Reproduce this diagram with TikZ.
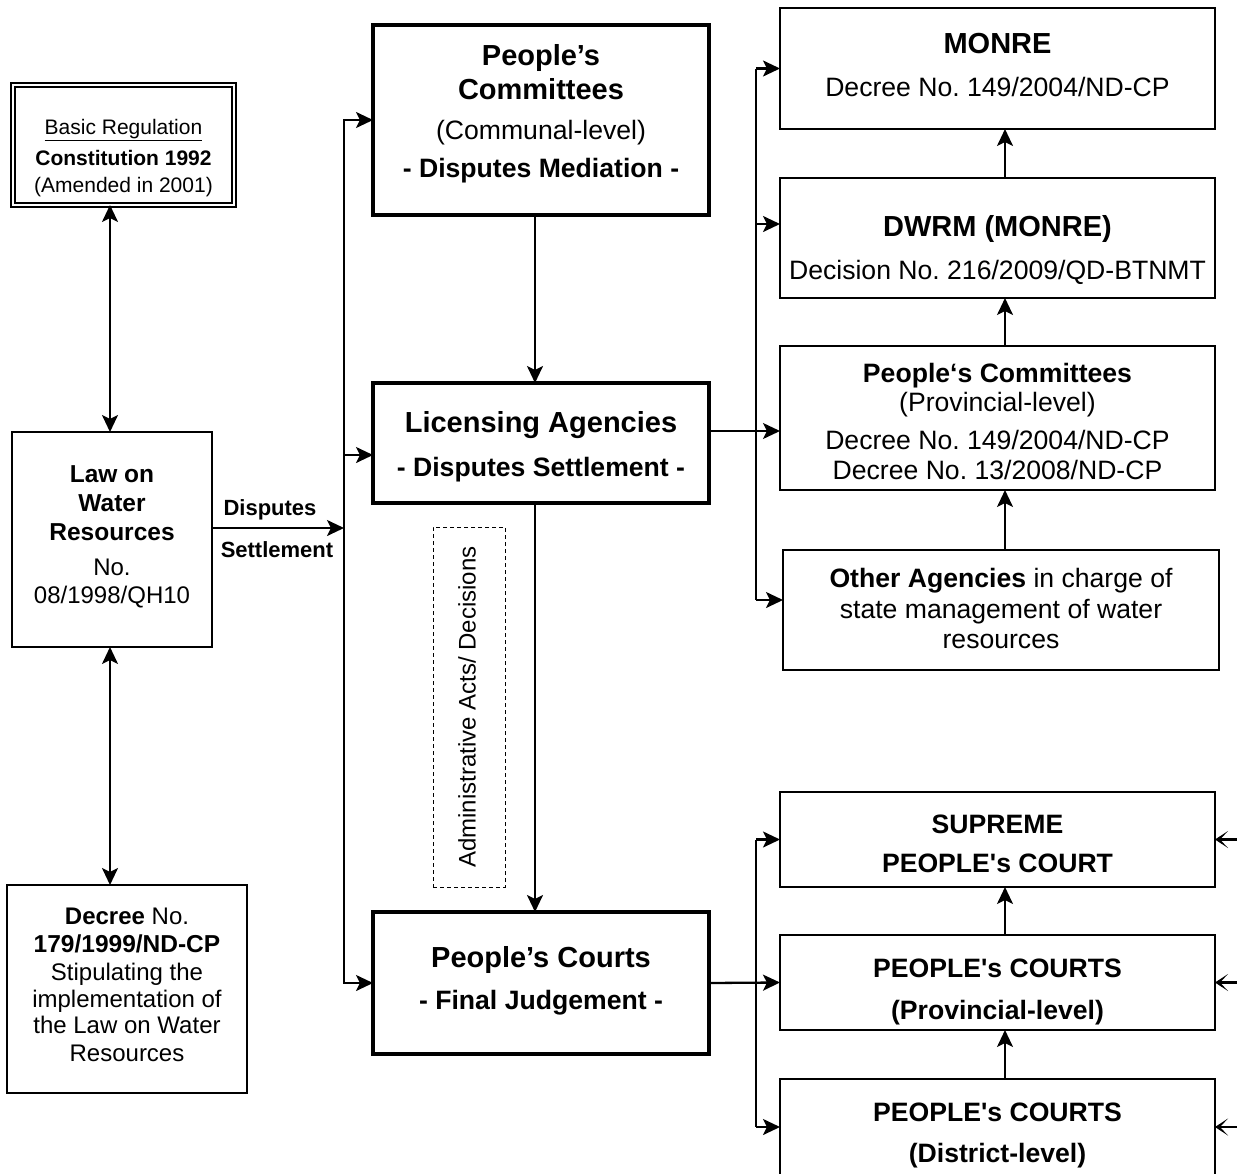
\documentclass[tikz,border=0pt]{standalone}
\usepackage{fontspec}
\setmainfont{Liberation Sans}
\usetikzlibrary{arrows.meta}
\newcommand\fsz[1]{\fontsize{#1}{#1}\selectfont}
\frenchspacing
\begin{document}
\begin{tikzpicture}[x=1pt,y=-1pt,
  every node/.style={inner sep=0pt, outer sep=0pt},
  boxthick/.style={draw, line width=3.3pt},
  boxmid/.style={draw, line width=2.8pt},
  boxthin/.style={draw, line width=2.5pt},
  boxdouble/.style={draw, double, double distance=2pt, line width=2pt},
  tip/.style={-{Stealth[length=17pt,width=16pt,inset=4pt]}},
  arr/.style={line width=2.3pt, tip},
  arrthin/.style={line width=1.5pt, tip},
  darr/.style={line width=2.3pt, {Stealth[length=17pt,width=16pt,inset=4pt]}-{Stealth[length=17pt,width=16pt,inset=4pt]}},
  edgearr/.style={line width=2.3pt, -{Stealth[length=13pt,width=17pt,inset=8pt]}},
  busthick/.style={line width=2.3pt, line join=miter},
  busthin/.style={line width=1.5pt},
  tBa/.style={font=\fsz{29}\bfseries, text height=20.8pt, text depth=0pt},
  tBb/.style={font=\fsz{26.6}\bfseries, text height=19pt, text depth=0pt},
  tRb/.style={font=\fsz{26.6}, text height=19pt, text depth=0pt},
  tBc/.style={font=\fsz{24.5}\bfseries, text height=17.5pt, text depth=0pt},
  tRc/.style={font=\fsz{24}, text height=17.2pt, text depth=0pt},
  tBd/.style={font=\fsz{21}\bfseries, text height=15pt, text depth=0pt},
  tRd/.style={font=\fsz{21}, text height=15pt, text depth=0pt},
  tBe/.style={font=\fsz{22}\bfseries, text height=15.8pt, text depth=0pt}
]
\useasboundingbox (0,0) rectangle (1237,1173);
\clip (0,0) rectangle (1237,1173);

% column coordinates
\coordinate (xl) at (110,0);
\coordinate (xm) at (535,0);
\coordinate (xr) at (1005,0);
\coordinate (busL) at (344,0);
\coordinate (busR) at (756,0);
\coordinate (edge) at (1245,0);

% ---------------- left column ----------------
\node[boxdouble, minimum width=221, minimum height=120] (A) at (123.5,145) {};
\node[tRd] (A1) at (123.5,127) {\underline{Basic Regulation}};
\node[tBd] (A2) at (123.5,158) {Constitution 1992};
\node[tRd] (A3) at (123.5,185) {(Amended in 2001)};

\node[boxthin, minimum width=200, minimum height=215] (B) at (112,539.5) {};
\node[tBc] (B1) at (112,474) {Law on};
\node[tBc] (B2) at (112,503) {Water};
\node[tBc] (B3) at (112,532) {Resources};
\node[tRc] (B4) at (112,567) {No.};
\node[tRc] (B5) at (112,595) {08/1998/QH10};

\node[boxthin, minimum width=240, minimum height=208] (C) at (127,989) {};
\node[tRc] (C1) at (127,916) {\textbf{Decree} No.};
\node[tBc] (C2) at (127,944) {179/1999/ND-CP};
\node[tRc] (C3) at (127,972) {Stipulating the};
\node[tRc] (C4) at (127,999) {implementation of};
\node[tRc] (C5) at (127,1025) {the Law on Water};
\node[tRc] (C6) at (127,1053) {Resources};

% ---------------- middle column ----------------
\node[boxthick, minimum width=336, minimum height=190] (D) at (541,120) {};
\node[tBa] (D1) at (541,55) {People’s};
\node[tBa] (D2) at (541,89) {Committees};
\node[tRb] (D3) at (541,130) {(Communal-level)};
\node[tBb] (D4) at (541,168) {- Disputes Mediation -};

\node[boxthick, minimum width=336, minimum height=120] (E) at (541,443) {};
\node[tBa] (E1) at (541,422) {Licensing Agencies};
\node[tBb] (E2) at (541,467) {- Disputes Settlement -};

\node[boxthick, minimum width=336, minimum height=142] (F) at (541,983) {};
\node[tBa] (F1) at (541,957) {People’s Courts};
\node[tBb] (F2) at (541,1000) {- Final Judgement -};

\node[draw, line width=1pt, dash pattern=on 4pt off 3pt, minimum width=72, minimum height=360] (Adm) at (469,707) {};
\node[tRc, rotate=90] (AdmT) at (467,707) {Administrative Acts/ Decisions};

% ---------------- right column (upper) ----------------
\node[boxmid, minimum width=435, minimum height=121] (G) at (997.5,68.5) {};
\node[tBa] (G1) at (997.5,43) {MONRE};
\node[tRb] (G2) at (997.5,87) {Decree No. 149/2004/ND-CP};

\node[boxmid, minimum width=435, minimum height=120] (H) at (997.5,238) {};
\node[tBa] (H1) at (997.5,226) {DWRM (MONRE)};
\node[tRb] (H2) at (997.5,270) {Decision No. 216/2009/QD-BTNMT};

\node[boxmid, minimum width=435, minimum height=144] (I) at (997.5,418) {};
\node[tBb] (I1) at (997.5,373) {People‘s Committees};
\node[tRb] (I2) at (997.5,402) {(Provincial-level)};
\node[tRb] (I3) at (997.5,440) {Decree No. 149/2004/ND-CP};
\node[tRb] (I4) at (997.5,470) {Decree No. 13/2008/ND-CP};

\node[boxmid, minimum width=436, minimum height=120] (J) at (1001,610) {};
\node[tRb] (J1) at (1001,578) {\textbf{Other Agencies} in charge of};
\node[tRb] (J2) at (1001,609) {state management of water};
\node[tRb] (J3) at (1001,639) {resources};

% ---------------- right column (lower) ----------------
\node[boxmid, minimum width=435, minimum height=95] (K) at (997.5,839.5) {};
\node[tBb] (K1) at (997.5,824) {SUPREME};
\node[tBb] (K2) at (997.5,863) {PEOPLE\textquotesingle s COURT};

\node[boxmid, minimum width=435, minimum height=95] (L) at (997.5,982.5) {};
\node[tBb] (L1) at (997.5,968) {PEOPLE\textquotesingle s COURTS};
\node[tBb] (L2) at (997.5,1010) {(Provincial-level)};

\node[boxmid, minimum width=435, minimum height=111] (M) at (997.5,1134.5) {};
\node[tBb] (M1) at (997.5,1112) {PEOPLE\textquotesingle s COURTS};
\node[tBb] (M2) at (997.5,1153) {(District-level)};

% ---------------- connectors ----------------
\draw[darr] (A.south -| xl) -- (B.north -| xl);
\draw[darr] (B.south -| xl) -- (C.north -| xl);

\coordinate (yds) at (0,528);
\draw[arr] (B.east |- yds) -- (busL |- yds);
\node[tBe] (DS1) at (270,508) {Disputes};
\node[tBe] (DS2) at (277,550) {Settlement};

\draw[busthick, tip] (busL |- F.west) -- (busL |- D.west) -- (D.west);
\draw[busthick, tip] (busL |- D.west) -- (busL |- F.west) -- (F.west);
\coordinate (ye) at (0,455);
\draw[arr] (busL |- ye) -- (E.west |- ye);

\draw[arr] (D.south -| xm) -- (E.north -| xm);
\draw[arr] (E.south -| xm) -- (F.north -| xm);

% upper right bus
\coordinate (yi) at (0,431);
\coordinate (yh) at (0,224);
\coordinate (yj) at (0,600);
\draw[busthin] (busR |- G.west) -- (busR |- yj);
\draw[arr] (busR |- G.west) -- (G.west);
\draw[arr] (busR |- yh) -- (H.west |- yh);
\draw[arrthin] (E.east |- yi) -- (I.west |- yi);
\draw[arr] (busR |- yj) -- (J.west |- yj);

\draw[arr] (H.north -| xr) -- (G.south -| xr);
\draw[arr] (I.north -| xr) -- (H.south -| xr);
\draw[arr] (J.north -| xr) -- (I.south -| xr);

% lower right bus
\coordinate (ym) at (0,1127);
\draw[busthin] (busR |- K.west) -- (busR |- ym);
\draw[arr] (busR |- K.west) -- (K.west);
\draw[arr] (F.east) -- (L.west);
\draw[arr] (busR |- ym) -- (M.west |- ym);

\draw[arr] (L.north -| xr) -- (K.south -| xr);
\draw[arr] (M.north -| xr) -- (L.south -| xr);

% arrows from the right edge
\draw[edgearr] (edge |- K.east) -- (K.east);
\draw[edgearr] (edge |- L.east) -- (L.east);
\draw[edgearr] (edge |- ym) -- (M.east |- ym);
\end{tikzpicture}
\end{document}
